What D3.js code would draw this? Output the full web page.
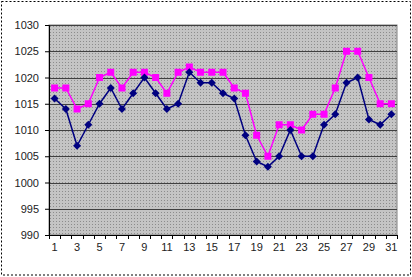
<!DOCTYPE html>
<html>
<head>
<meta charset="utf-8">
<script src="https://cdn.jsdelivr.net/npm/d3@7"></script>
<style>
  body { margin: 0; background: #fff; }
  svg { display: block; font-family: Arial, "Liberation Sans", sans-serif; }
</style>
</head>
<body>
<svg id="chart" width="412" height="277"></svg>
<script>
// day numbers along the bottom
const days = d3.range(1, 32);
const dayLabels = days.filter(d => d % 2 === 1);
const yTicks = [990, 995, 1000, 1005, 1010, 1015, 1020, 1025, 1030];

// navy series (diamonds)
const seriesA = [1016, 1014, 1007, 1011, 1015, 1018, 1014, 1017, 1020, 1017,
                 1014, 1015, 1021, 1019, 1019, 1017, 1016, 1009, 1004, 1003,
                 1005, 1010, 1005, 1005, 1011, 1013, 1019, 1020, 1012, 1011, 1013];
// magenta series (squares)
const seriesB = [1018, 1018, 1014, 1015, 1020, 1021, 1018, 1021, 1021, 1020,
                 1017, 1021, 1022, 1021, 1021, 1021, 1018, 1017, 1009, 1005,
                 1011, 1011, 1010, 1013, 1013, 1018, 1025, 1025, 1020, 1015, 1015];

const svg = d3.select("#chart");
const margin = { top: 25, right: 15, bottom: 42, left: 49 };
const W = 412, H = 277;
const innerW = 397 - margin.left;
const innerH = 235 - margin.top;

// outer dashed frame
svg.append("rect")
    .attr("x", 1.5).attr("y", 1.5)
    .attr("width", 409).attr("height", 273.5)
    .attr("fill", "none")
    .attr("stroke", "#000")
    .attr("stroke-dasharray", "2,2");

// dotted grey plot background
const defs = svg.append("defs");
const pat = defs.append("pattern")
    .attr("id", "dots")
    .attr("width", 3).attr("height", 3)
    .attr("patternUnits", "userSpaceOnUse");
pat.append("rect").attr("width", 3).attr("height", 3).attr("fill", "#c4c4c4");
pat.append("rect").attr("x", 1).attr("y", 1).attr("width", 1).attr("height", 1).attr("fill", "#8c8c8c");

const g = svg.append("g").attr("transform", `translate(${margin.left},${margin.top})`);

const x = d3.scaleBand().domain(days).range([0, innerW]);
const y = d3.scaleLinear().domain([990, 1030]).range([innerH, 0]);

g.append("rect")
    .attr("width", innerW).attr("height", innerH)
    .attr("fill", "url(#dots)")
    .attr("stroke", "#808080");

// gridlines
g.selectAll(".grid")
    .data(yTicks.slice(1))
    .enter().append("line")
    .attr("x1", 0).attr("x2", innerW)
    .attr("y1", d => Math.round(y(d)) + 0.5)
    .attr("y2", d => Math.round(y(d)) + 0.5)
    .attr("stroke", "#404040");

// y axis
const yAxis = g.append("g")
    .call(d3.axisLeft(y).tickValues(yTicks).tickSize(4).tickPadding(6).tickFormat(d3.format("d")));
yAxis.select(".domain").attr("stroke", "#000");
yAxis.selectAll("text").attr("font-size", 11).attr("fill", "#222").attr("font-family", "Arial, 'Liberation Sans', sans-serif");

// x axis with ticks at category boundaries
const xAxisG = g.append("g").attr("transform", `translate(0,${innerH})`);
xAxisG.append("line")
    .attr("x1", 0).attr("x2", innerW)
    .attr("y1", 0.5).attr("y2", 0.5)
    .attr("stroke", "#000");
xAxisG.selectAll(".tick")
    .data(d3.range(0, 32))
    .enter().append("line")
    .attr("x1", i => Math.round(i * x.step()) + 0.5)
    .attr("x2", i => Math.round(i * x.step()) + 0.5)
    .attr("y1", 0).attr("y2", 4)
    .attr("stroke", "#000");
xAxisG.selectAll(".lab")
    .data(dayLabels)
    .enter().append("text")
    .attr("x", d => x(d) + x.bandwidth() / 2)
    .attr("y", 16)
    .attr("text-anchor", "middle")
    .attr("font-size", 11)
    .attr("fill", "#222")
    .text(d => d);

const cx = (d, i) => x(days[i]) + x.bandwidth() / 2;
const line = d3.line().x(cx).y(d => y(d));

// magenta series
g.append("path")
    .datum(seriesB)
    .attr("d", line)
    .attr("fill", "none")
    .attr("stroke", "#ff00ff")
    .attr("stroke-width", 1.5);
g.selectAll(".sq")
    .data(seriesB)
    .enter().append("rect")
    .attr("x", (d, i) => cx(d, i) - 3.5)
    .attr("y", d => y(d) - 3.5)
    .attr("width", 7).attr("height", 7)
    .attr("fill", "#ff00ff");

// navy series
g.append("path")
    .datum(seriesA)
    .attr("d", line)
    .attr("fill", "none")
    .attr("stroke", "#000080")
    .attr("stroke-width", 1.5);
g.selectAll(".dm")
    .data(seriesA)
    .enter().append("path")
    .attr("transform", (d, i) => `translate(${cx(d, i)},${y(d)})`)
    .attr("d", "M0,-4L4,0L0,4L-4,0Z")
    .attr("fill", "#000080");
</script>
</body>
</html>
